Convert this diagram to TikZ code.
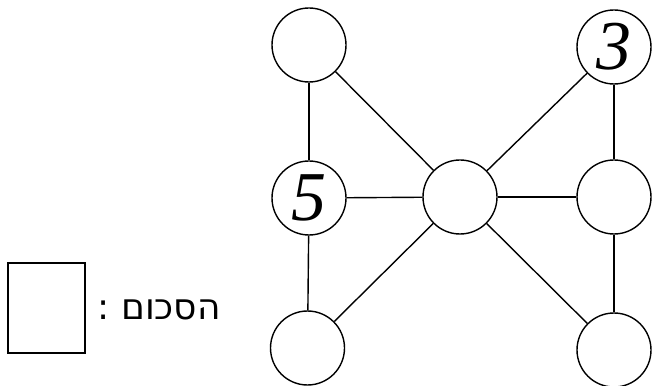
\documentclass[tikz,border=0pt]{standalone}
\usepackage{fontspec}
\setmainfont{Liberation Serif}
\newfontfamily\hebfont[Script=Hebrew]{DejaVu Sans}
\TeXXeTstate=1
\begin{document}
\begin{tikzpicture}[x=1pt,y=1pt,
  vert/.style={circle,draw,line width=1.4pt,minimum size=74pt,inner sep=0pt,font=\fontsize{70}{74}\selectfont\itshape},
  edge/.style={line width=1.4pt}]
\useasboundingbox (0,0) rectangle (652,385);
\node[vert] (tl) at (309,340) {};
\node[vert] (tr) at (614,338) {3};
\node[vert] (ml) at (309,187) {5};
\node[vert] (c)  at (460,188) {};
\node[vert] (mr) at (614,188) {};
\node[vert] (bl) at (307.5,37) {};
\node[vert] (br) at (614,35) {};
\draw[edge] (tl) -- (ml);
\draw[edge] (ml) -- (bl);
\draw[edge] (tl) -- (c);
\draw[edge] (ml) -- (c);
\draw[edge] (bl) -- (c);
\draw[edge] (tr) -- (c);
\draw[edge] (c) -- (mr);
\draw[edge] (c) -- (br);
\draw[edge] (tr) -- (mr);
\draw[edge] (mr) -- (br);
\node[draw,line width=2.2pt,minimum width=77pt,minimum height=90pt,inner sep=0pt] (box) at (46.5,77) {};
\node[anchor=base east,inner sep=0pt,font=\hebfont\fontsize{36}{40}\selectfont] (lbl) at (221,65) {\beginR הסכום :\endR};
\end{tikzpicture}
\end{document}
